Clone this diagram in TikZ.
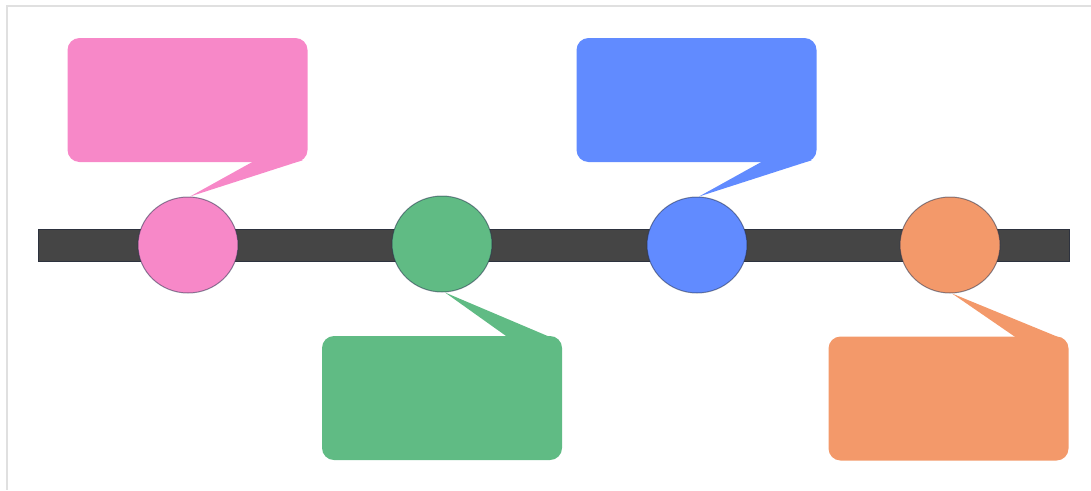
\documentclass[tikz,border=0pt]{standalone}
\usetikzlibrary{calc,shapes.geometric}
\definecolor{cpink}{RGB}{247,136,200}
\definecolor{cgreen}{RGB}{96,187,132}
\definecolor{cblue}{RGB}{97,139,255}
\definecolor{corange}{RGB}{243,153,106}
\definecolor{cbar}{RGB}{69,69,69}
\definecolor{cbarline}{RGB}{45,50,62}
\definecolor{cstroke}{RGB}{30,41,70}
\definecolor{cframe}{RGB}{224,224,224}
\begin{document}
\begin{tikzpicture}[x=1pt,y=-1pt,
  callout/.style={rounded corners=12pt, minimum width=240pt, minimum height=124pt, inner sep=0pt},
  dot/.style={ellipse, minimum width=100pt, minimum height=96pt, inner sep=0pt, draw=cstroke, draw opacity=0.5, line width=1pt}]
\useasboundingbox (0,0) rectangle (1091,490);
\draw[cframe, line width=2pt] (7,490) -- (7,6) -- (1091,6);
\node[fill=cbar, draw=cbarline, line width=1pt, minimum width=1031pt, minimum height=32pt, inner sep=0pt] (bar) at (553.5,245) {};
% markers
\node[dot, fill=cpink] (d1) at (188,245) {};
\node[dot, fill=cgreen] (d2) at (442,244) {};
\node[dot, fill=cblue] (d3) at (697,245) {};
\node[dot, fill=corange] (d4) at (950,245) {};
% callouts
\node[callout, fill=cpink] (b1) at (187.5,100) {};
\node[callout, fill=cblue] (b3) at (696.5,100) {};
\node[callout, fill=cgreen] (b2) at (442,398) {};
\node[callout, fill=corange] (b4) at (948.5,398.5) {};
% tails
\fill[cpink] ($(b1.south east)+(-54,-1)$) -- ($(b1.south east)+(-5,-2)$) -- ($(d1.north)+(2,0)$) -- cycle;
\fill[cblue] ($(b3.south east)+(-54,-1)$) -- ($(b3.south east)+(-5,-2)$) -- ($(d3.north)+(2,0)$) -- cycle;
\fill[cgreen] ($(b2.north east)+(-55,1)$) -- ($(b2.north east)+(-8,3)$) -- ($(d2.south)+(3,0)$) -- cycle;
\fill[corange] ($(b4.north east)+(-53,1)$) -- ($(b4.north east)+(-5,3)$) -- ($(d4.south)+(2,0)$) -- cycle;
\end{tikzpicture}
\end{document}
